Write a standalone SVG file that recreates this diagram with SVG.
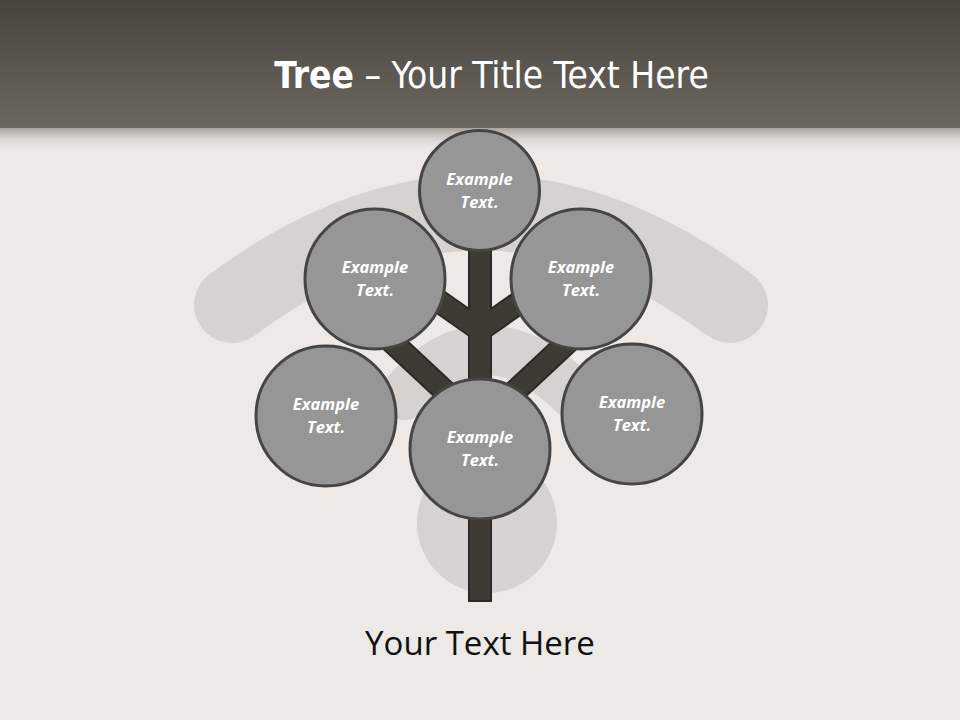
<svg xmlns="http://www.w3.org/2000/svg" width="960" height="720" viewBox="0 0 960 720">
<defs>
<linearGradient id="hdr" x1="0" y1="0" x2="0" y2="1">
<stop offset="0" stop-color="#48443d"/>
<stop offset="1" stop-color="#6c675f"/>
</linearGradient>
<linearGradient id="shd" x1="0" y1="0" x2="0" y2="1">
<stop offset="0" stop-color="#aaa59e"/>
<stop offset="0.4" stop-color="#d6d2cd"/>
<stop offset="1" stop-color="#ede9e6" stop-opacity="0"/>
</linearGradient>
</defs>
<style>
.node circle{fill:#969696;stroke:#454545;stroke-width:3}
.node text{font-family:"Open Sans","Liberation Sans",sans-serif;font-weight:bold;font-style:italic;font-size:16.5px;fill:#ffffff;text-anchor:middle}
.br{stroke:#3e3b35;stroke-width:20;fill:none}
.bro{stroke:#2c2a26;stroke-width:24;fill:none}
.sh{fill:none;stroke:#cfccc9;stroke-linecap:round;opacity:0.8}
</style>
<rect width="960" height="720" fill="#ede9e6"/>
<rect width="960" height="128" fill="url(#hdr)"/>
<rect y="128" width="960" height="26" fill="url(#shd)"/>
<text x="491.5" y="88" text-anchor="middle" font-family="'DejaVu Sans','Open Sans',sans-serif" font-stretch="condensed" font-size="36.8" fill="#ffffff"><tspan font-weight="bold">Tree</tspan> – Your Title Text Here</text>
<g id="shadows">
<path class="sh" d="M232 305 Q480 120 730 305" stroke-width="76"/>
<path class="sh" d="M405 395 Q482 305 575 395" stroke-width="50"/>
<circle cx="487" cy="523" r="70" fill="#cfccc9" opacity="0.8"/>
</g>
<g id="connectors">
<line class="bro" x1="480" y1="250" x2="480" y2="602"/>
<line class="bro" x1="480" y1="330" x2="430" y2="295"/>
<line class="bro" x1="480" y1="330" x2="530" y2="295"/>
<line class="bro" x1="465" y1="410" x2="390" y2="340"/>
<line class="bro" x1="495" y1="410" x2="570" y2="340"/>
<line class="br" x1="480" y1="250" x2="480" y2="600"/>
<line class="br" x1="480" y1="330" x2="430" y2="295"/>
<line class="br" x1="480" y1="330" x2="530" y2="295"/>
<line class="br" x1="465" y1="410" x2="390" y2="340"/>
<line class="br" x1="495" y1="410" x2="570" y2="340"/>
</g>
<g id="n-top" class="node"><circle cx="479.5" cy="190.5" r="60"/><text x="479.5" y="185">Example</text><text x="479.5" y="208">Text.</text></g>
<g id="n-ul" class="node"><circle cx="375" cy="279" r="70"/><text x="375" y="273">Example</text><text x="375" y="296">Text.</text></g>
<g id="n-ur" class="node"><circle cx="581" cy="279" r="70"/><text x="581" y="273">Example</text><text x="581" y="296">Text.</text></g>
<g id="n-ll" class="node"><circle cx="326" cy="416" r="70"/><text x="326" y="410">Example</text><text x="326" y="433">Text.</text></g>
<g id="n-lr" class="node"><circle cx="632" cy="414" r="70"/><text x="632" y="408">Example</text><text x="632" y="431">Text.</text></g>
<g id="n-c" class="node"><circle cx="480" cy="449" r="70"/><text x="480" y="443">Example</text><text x="480" y="466">Text.</text></g>
<text x="480" y="655" text-anchor="middle" font-family="'Open Sans','Liberation Sans',sans-serif" font-size="33" fill="#111111">Your Text Here</text>
</svg>
